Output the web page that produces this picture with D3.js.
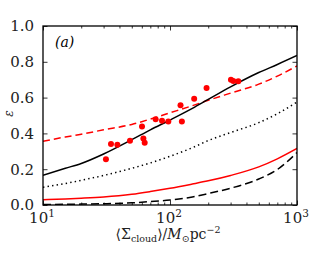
<!DOCTYPE html>
<html>
<head>
<meta charset="utf-8">
<script src="https://cdn.jsdelivr.net/npm/d3@7"></script>
<style>
  html, body { margin: 0; padding: 0; background: #fff; overflow: hidden; }
  svg { display: block; }
  text { font-family: "DejaVu Serif", "Liberation Serif", serif; }
</style>
</head>
<body>
<div id="chart"></div>
<script>
// surface density grid (M_sun pc^-2) used for the model curves
const sigmaGrid = [10, 15, 20, 30, 50, 70, 100, 150, 200, 300, 500, 700, 1000]

// model curves
const blackSolid  = [0.166, 0.205, 0.232, 0.285, 0.365, 0.42, 0.475, 0.54, 0.59, 0.66, 0.74, 0.785, 0.835]
const redDashed   = [0.356, 0.38, 0.395, 0.42, 0.45, 0.48, 0.515, 0.555, 0.585, 0.625, 0.675, 0.72, 0.777]
const blackDotted = [0.099, 0.12, 0.138, 0.165, 0.205, 0.235, 0.272, 0.32, 0.36, 0.405, 0.46, 0.51, 0.575]
const redSolid    = [0.03, 0.034, 0.038, 0.045, 0.06, 0.075, 0.093, 0.117, 0.135, 0.165, 0.213, 0.258, 0.316]
const blackDashed = [0.003, 0.004, 0.005, 0.007, 0.012, 0.019, 0.028, 0.045, 0.064, 0.094, 0.145, 0.198, 0.293]

// observed clouds
const obsSigma = [31.3, 34.3, 38.5, 48.4, 60.2, 61.7, 63.2, 77.1, 86.5, 97, 121, 124, 155, 194, 302, 315, 345]
const obsEps   = [0.255, 0.341, 0.337, 0.359, 0.438, 0.371, 0.348, 0.479, 0.471, 0.466, 0.557, 0.466, 0.594, 0.654, 0.700, 0.693, 0.691]

const yTicks = [0, 0.2, 0.4, 0.6, 0.8, 1.0]
const xTicks = [10, 100, 1000]
const xExp = ['1', '2', '3']

const width = 330, height = 257
const margin = { top: 26, right: 33, bottom: 52, left: 43 }
const innerWidth = width - margin.left - margin.right
const innerHeight = height - margin.top - margin.bottom

const svg = d3.select('#chart').append('svg')
    .attr('width', width).attr('height', height)

const g = svg.append('g')
    .attr('transform', `translate(${margin.left}, ${margin.top})`)

const xScale = d3.scaleLog().domain([10, 1000]).range([0, innerWidth])
const yScale = d3.scaleLinear().domain([0, 1]).range([innerHeight, 0])

// minor log ticks
const minor = []
for (let d = 10; d < 1000; d *= 10) {
    for (let k = 2; k <= 9; k++) minor.push(d * k)
}

const line = d3.line()
    .x(d => xScale(d[0]))
    .y(d => yScale(d[1]))
    .curve(d3.curveMonotoneX)

const curves = [
    { vals: blackDotted, color: '#000', dash: '1.4,3.2' },
    { vals: blackDashed, color: '#000', dash: '8,4' },
    { vals: redSolid, color: '#ff0000', dash: null },
    { vals: redDashed, color: '#ff0000', dash: '7,4' },
    { vals: blackSolid, color: '#000', dash: null }
]

svg.append('clipPath').attr('id', 'clip')
    .append('rect').attr('width', innerWidth).attr('height', innerHeight)

const plot = g.append('g').attr('clip-path', 'url(#clip)')

curves.forEach(c => {
    plot.append('path')
        .datum(sigmaGrid.map((s, i) => [s, c.vals[i]]))
        .attr('d', line)
        .attr('fill', 'none')
        .attr('stroke', c.color)
        .attr('stroke-width', 1.5)
        .attr('stroke-dasharray', c.dash)
})

plot.selectAll('circle')
    .data(obsSigma.map((s, i) => [s, obsEps[i]]))
    .enter().append('circle')
    .attr('cx', d => xScale(d[0]))
    .attr('cy', d => yScale(d[1]))
    .attr('r', 3)
    .attr('fill', '#ff0000')

// axes with inward ticks
const axisStyle = sel => {
    sel.select('.domain').remove()
    sel.selectAll('.tick line').attr('stroke', '#000').attr('stroke-width', 0.8)
}
// ticks only, no labels
const tickOnly = sel => {
    axisStyle(sel)
    sel.selectAll('.tick text').remove()
}

g.append('g').attr('transform', `translate(0, ${innerHeight})`)
    .call(d3.axisBottom(xScale).tickValues(xTicks).tickSize(-4.5))
    .call(tickOnly)
g.append('g').attr('transform', `translate(0, ${innerHeight})`)
    .call(d3.axisBottom(xScale).tickValues(minor).tickSize(-2.5))
    .call(tickOnly)
g.append('g')
    .call(d3.axisTop(xScale).tickValues(xTicks).tickSize(-4.5))
    .call(tickOnly)
g.append('g')
    .call(d3.axisTop(xScale).tickValues(minor).tickSize(-2.5))
    .call(tickOnly)

const yAxisG = g.append('g')
    .call(d3.axisLeft(yScale).tickValues(yTicks).tickSize(-4.5).tickPadding(9).tickFormat(d3.format('.1f')))
    .call(axisStyle)
yAxisG.selectAll('text')
    .attr('font-size', 15).attr('fill', '#222')
    .attr('font-family', '"DejaVu Serif", serif')

g.append('g').attr('transform', `translate(${innerWidth}, 0)`)
    .call(d3.axisRight(yScale).tickValues(yTicks).tickSize(-4.5))
    .call(tickOnly)

// lay out pieces of a label as separate texts, centred on cx
// each piece: [text, fontSize, dy, italic]
function richLabel(parent, cx, baseY, pieces) {
    const grp = parent.append('g')
    const nodes = pieces.map(p => grp.append('text')
        .attr('y', baseY + p[2])
        .attr('font-size', p[1])
        .attr('font-style', p[3] ? 'italic' : 'normal')
        .attr('fill', '#222')
        .text(p[0]))
    const widths = nodes.map(n => n.node().getComputedTextLength())
    let x = cx - d3.sum(widths) / 2
    nodes.forEach((n, i) => { n.attr('x', x); x += widths[i] })
}

// x tick labels 10^n
xTicks.forEach((t, i) => {
    richLabel(g, xScale(t) - 1, innerHeight + 18, [['10', 15, 0], [xExp[i], 10.5, -6]])
})

// frame
g.append('rect')
    .attr('width', innerWidth).attr('height', innerHeight)
    .attr('fill', 'none').attr('stroke', '#000').attr('stroke-width', 1.3)

// panel label
g.append('text')
    .attr('x', 12).attr('y', 21)
    .attr('font-size', 14)
    .attr('font-style', 'italic')
    .text('(a)')

// x axis label
richLabel(svg, margin.left + innerWidth / 2 - 2, 239, [
    ['⟨Σ', 14, 0], ['cloud', 9.5, 3], ['⟩/', 14, 0], ['M', 14, 0, true],
    ['⊙', 9.5, 3], ['pc', 14, 0], ['−2', 9.5, -6]
])

svg.append('text')
    .attr('transform', `translate(13, ${margin.top + innerHeight / 2 - 2}) rotate(-90)`)
    .attr('text-anchor', 'middle')
    .attr('font-size', 12)
    .attr('font-style', 'italic')
    .attr('fill', '#222')
    .text('ε')
</script>
</body>
</html>
